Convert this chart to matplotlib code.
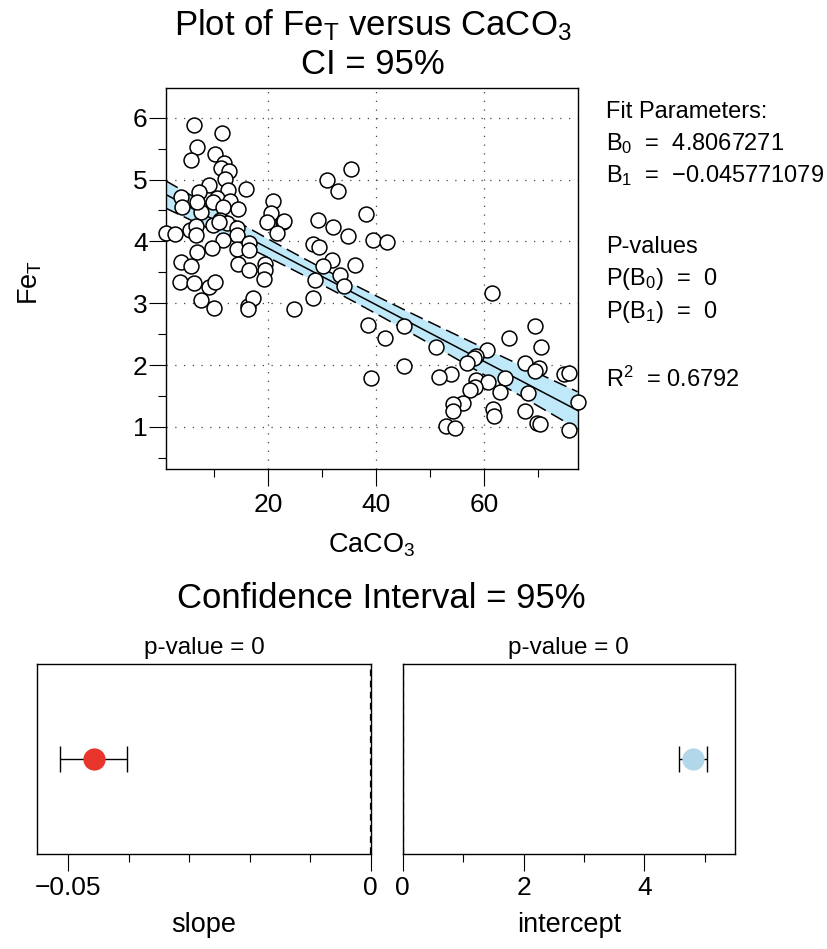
import numpy as np
import matplotlib
matplotlib.use("Agg")
import matplotlib.pyplot as plt
from matplotlib.ticker import MultipleLocator, FixedLocator

plt.rcParams['font.family'] = ['Liberation Sans', 'DejaVu Sans']
plt.rcParams['mathtext.fontset'] = 'custom'
plt.rcParams['mathtext.rm'] = 'Liberation Sans'
plt.rcParams['mathtext.it'] = 'Liberation Sans:italic'
plt.rcParams['axes.unicode_minus'] = True

# ---------------- data
caco3 = np.array([
    6.35, 11.5, 6.8, 5.7, 10.2, 11.85, 11.2, 12.8, 12.1, 9.1, 7.3, 12.65, 15.9, 3.9,
    10.5, 12.96, 4.07, 9.9, 11.7, 14.5, 7.5, 11.1, 12.35, 9.9, 14.2, 1.05, 2.7, 5.55,
    6.67, 6.67, 14.3, 11.7, 9.6, 14.2, 16.4, 16.5, 6.8, 3.8, 5.7, 14.5, 16.4, 19.4,
    19.4, 19.3, 3.7, 6.35, 9.1, 10.2, 7.5, 10.0, 16.2, 17.2, 16.2, 24.9, 20.9, 20.5,
    19.8, 22.7, 23.0, 21.6, 11.0, 6.8,
    35.4, 30.9, 33.0, 38.1, 29.3, 32.0, 34.9, 39.4, 42.0, 28.4, 29.5, 31.8, 30.1,
    36.1, 33.3, 28.7, 34.1, 28.4,
    38.5, 41.7, 39.1,
    61.5, 45.2, 69.4, 64.7, 70.5, 51.1, 60.6, 58.6, 58.1, 56.8, 67.5, 70.2, 69.4,
    45.2, 53.8, 51.7, 74.9, 75.8, 63.8, 58.6, 60.8, 58.3, 57.4, 63.0, 68.2, 77.35,
    56.1, 54.2, 54.3, 61.6, 61.9, 67.5, 53.0, 54.6, 69.8, 70.4, 75.8])
fe_t = np.array([
    5.88, 5.75, 5.53, 5.32, 5.42, 5.26, 5.18, 5.14, 5.01, 4.91, 4.80, 4.83, 4.84, 4.72,
    4.70, 4.65, 4.56, 4.63, 4.56, 4.52, 4.47, 4.35, 4.30, 4.26, 4.22, 4.13, 4.12, 4.18,
    4.25, 4.11, 4.11, 4.03, 3.89, 3.88, 3.98, 3.86, 3.83, 3.66, 3.61, 3.64, 3.54, 3.64,
    3.54, 3.39, 3.35, 3.32, 3.27, 3.34, 3.06, 2.92, 2.96, 3.08, 2.90, 2.90, 4.65, 4.46,
    4.31, 4.31, 4.33, 4.13, 4.31, 4.63,
    5.17, 4.99, 4.81, 4.44, 4.34, 4.23, 4.08, 4.02, 3.99, 3.96, 3.91, 3.70, 3.61,
    3.62, 3.45, 3.38, 3.28, 3.08,
    2.65, 2.43, 1.79,
    3.16, 2.64, 2.64, 2.44, 2.29, 2.29, 2.25, 2.15, 2.11, 2.03, 2.04, 1.95, 1.91,
    1.98, 1.86, 1.80, 1.86, 1.87, 1.79, 1.76, 1.72, 1.65, 1.60, 1.56, 1.55, 1.41,
    1.39, 1.37, 1.26, 1.29, 1.17, 1.25, 1.02, 0.98, 1.06, 1.05, 0.95])

b0 = 4.8067271
b1 = -0.045771079
r2 = 0.6792
p_b0 = 0
p_b1 = 0
t_crit = 1.98          # 95% two-sided, ~115 df

slope_ci = [-0.0514, -0.0402]
intercept_ci = [4.57, 5.04]

W, H = 828, 949
fig = plt.figure(figsize=(W / 100, H / 100), dpi=100)

def fx(px):
    return px / W

def fy(py):
    return 1 - py / H

band_color = '#bfe8f9'

#========================= scatter with fit =========================
ax = fig.add_axes([fx(165.7), fy(469), (577.7 - 165.7) / W, (469 - 88) / H])

n = len(caco3)
resid = fe_t - (b0 + b1 * caco3)
s = np.sqrt(np.sum(resid ** 2) / (n - 2))
xbar = caco3.mean()
sxx = np.sum((caco3 - xbar) ** 2)

xx = np.linspace(caco3.min(), caco3.max(), 300)
fit = b0 + b1 * xx
half = t_crit * s * np.sqrt(1 / n + (xx - xbar) ** 2 / sxx)

ax.fill_between(xx, fit - half, fit + half, color=band_color, lw=0, zorder=1)
ax.plot(xx, fit + half, color='black', lw=1.1, ls=(0, (9, 4)), zorder=2)
ax.plot(xx, fit - half, color='black', lw=1.1, ls=(0, (9, 4)), zorder=2)
ax.plot(xx, fit, color='black', lw=1.1, zorder=2)
ax.scatter(caco3, fe_t, s=115, facecolor='white', edgecolor='black', lw=1.1,
           zorder=4, clip_on=False)

ax.set_xlim(caco3.min(), caco3.max())
ax.set_ylim(0.32, 6.48)
ax.xaxis.set_major_locator(FixedLocator([20, 40, 60]))
ax.xaxis.set_minor_locator(FixedLocator([10, 30, 50, 70]))
ax.yaxis.set_major_locator(MultipleLocator(1))
ax.yaxis.set_minor_locator(FixedLocator([0.5, 1.5, 2.5, 3.5, 4.5, 5.5]))
ax.grid(which='major', ls=(0, (1, 6)), color='#444444', lw=0.9)
ax.set_axisbelow(True)
ax.tick_params(which='major', length=12, width=0.8, labelsize=19)
ax.tick_params(axis='y', which='major', pad=1)
ax.tick_params(axis='x', which='major', pad=5)
ax.tick_params(which='minor', length=6, width=0.8)
for sp in ax.spines.values():
    sp.set_linewidth(1.0)

fig.text(fx(373), fy(25), 'Plot of Fe$_\\mathrm{T}$ versus CaCO$_3$', fontsize=25,
         ha='center', va='center')
fig.text(fx(373), fy(64), 'CI = 95%', fontsize=25, ha='center', va='center')
fig.text(fx(372), fy(545), 'CaCO$_3$', fontsize=19.5, ha='center', va='center')
fig.text(fx(30), fy(282), 'Fe$_\\mathrm{T}$', fontsize=19.5, ha='center', va='center',
         rotation=90)

# fit parameter block
info = [
    (118, 'Fit Parameters:'),
    (150, 'B$_0$  =  %.7f' % b0),
    (182, 'B$_1$  =  \u2212%.9f' % abs(b1)),
    (253, 'P-values'),
    (285, 'P(B$_0$)  =  %d' % p_b0),
    (318, 'P(B$_1$)  =  %d' % p_b1),
    (387, 'R$^2$  = %.4f' % r2),
]
for py, txt in info:
    fig.text(fx(606), fy(py), txt, fontsize=17, ha='left', va='baseline')

#========================= CI panels =========================
fig.text(fx(381), fy(598), 'Confidence Interval = 95%', fontsize=25,
         ha='center', va='center')

panels = [
    (37.3, 370.7, b1, slope_ci, '#e8352b', (-0.0551, 0), [-0.05, 0],
     [-0.04, -0.03, -0.02, -0.01], ['\u22120.05', '0'], 'slope', p_b1),
    (402.7, 735, b0, intercept_ci, '#b3d7ea', (0, 5.5), [0, 2, 4],
     [1, 3, 5], ['0', '2', '4'], 'intercept', p_b0),
]
for x0, x1, est, ci, col, xl, maj, mnr, labs, name, pv in panels:
    a = fig.add_axes([fx(x0), fy(854), (x1 - x0) / W, (854 - 664.3) / H])
    a.axvline(0, color='black', ls=(0, (3, 2)), lw=1.6, zorder=1)
    a.errorbar([est], [0], xerr=[[est - ci[0]], [ci[1] - est]], fmt='none',
               ecolor='black', elinewidth=1.0, capsize=9.5, capthick=1.0, zorder=2)
    a.plot([est], [0], 'o', ms=15, color=col, mec=col, zorder=3)
    a.set_xlim(*xl)
    a.set_ylim(-1, 1)
    a.set_yticks([])
    a.xaxis.set_major_locator(FixedLocator(maj))
    a.xaxis.set_minor_locator(FixedLocator(mnr))
    a.set_xticklabels(labs)
    a.tick_params(which='major', length=12, width=0.8, labelsize=19, pad=4)
    a.tick_params(which='minor', length=6, width=0.8)
    for sp in a.spines.values():
        sp.set_linewidth(1.0)
    cx = (x0 + x1) / 2
    fig.text(fx(cx), fy(648), 'p-value = %d' % pv, fontsize=17.5, ha='center', va='center')
    fig.text(fx(cx), fy(925), name, fontsize=19.5, ha='center', va='center')

fig.savefig('out.png', dpi=100)
